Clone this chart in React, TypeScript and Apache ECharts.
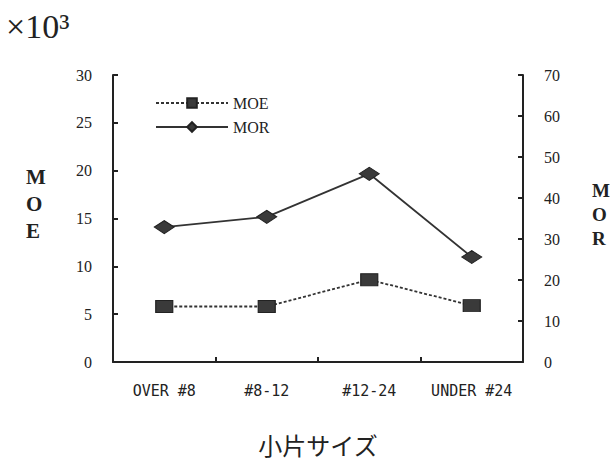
import React, { useEffect, useRef } from "react";
import * as echarts from "echarts";

const categories = ["OVER #8", "#8-12", "#12-24", "UNDER #24"];
const moeValues = [5.8, 5.8, 8.6, 5.9];
const morValues = [32.9, 35.4, 45.9, 25.6];
const leftTicks = { min: 0, max: 30, interval: 5 };
const rightTicks = { min: 0, max: 70, interval: 10 };

export default function App() {
  const ref = useRef<HTMLDivElement>(null);
  useEffect(() => {
    if (!ref.current) return;
    const chart = echarts.init(ref.current, null, { renderer: "svg" });
    const axisLine = { show: true, lineStyle: { color: "#222", width: 2 } };
    const axisTick = { show: true, inside: true, length: 5, lineStyle: { color: "#222", width: 2 } };
    const serif = "Liberation Serif";
    chart.setOption({
      animation: false,
      backgroundColor: "#fff",
      grid: { left: 113, right: 87, top: 75, bottom: 85, containLabel: false },
      legend: {
        orient: "vertical",
        left: 150,
        top: 90,
        itemGap: 8,
        itemWidth: 72,
        itemHeight: 12,
        textStyle: { fontFamily: serif, fontSize: 16, color: "#222" },
        data: ["MOE", "MOR"],
      },
      graphic: [
        {
          type: "text",
          left: 6,
          top: 9,
          style: { text: "×10³", font: "34px 'Liberation Serif'", fill: "#222" },
        },
        {
          type: "text",
          left: 26,
          top: 163,
          style: { text: "M\nO\nE", font: "bold 21px 'Liberation Serif'", lineHeight: 27, fill: "#222" },
        },
        {
          type: "text",
          left: 592,
          top: 178,
          style: { text: "M\nO\nR", font: "bold 19px 'Liberation Serif'", lineHeight: 24, fill: "#222" },
        },
      ],
      xAxis: {
        type: "category",
        data: categories,
        boundaryGap: true,
        axisLine,
        axisTick: { ...axisTick, alignWithLabel: false },
        axisLabel: { interval: 0, fontFamily: "DejaVu Sans Mono", fontSize: 15, color: "#222", margin: 21 },
        name: "小片サイズ",
        nameLocation: "middle",
        nameGap: 70,
        nameTextStyle: { fontFamily: "Noto Sans CJK JP", fontSize: 24, color: "#222" },
      },
      yAxis: [
        {
          type: "value",
          ...leftTicks,
          axisLine,
          axisTick,
          splitLine: { show: false },
          axisLabel: { fontFamily: serif, fontSize: 16, color: "#222", margin: 21 },
        },
        {
          type: "value",
          ...rightTicks,
          position: "right",
          axisLine,
          axisTick,
          splitLine: { show: false },
          axisLabel: { fontFamily: serif, fontSize: 16, color: "#222", margin: 21 },
        },
      ],
      series: [
        {
          name: "MOE",
          type: "line",
          yAxisIndex: 0,
          data: moeValues,
          symbol: "rect",
          symbolSize: [17, 12],
          lineStyle: { color: "#333", width: 1.8, type: [3, 2] },
          itemStyle: { color: "#3a3a3a", borderColor: "#222", borderWidth: 1 },
        },
        {
          name: "MOR",
          type: "line",
          yAxisIndex: 1,
          data: morValues,
          symbol: "diamond",
          symbolSize: [20, 13],
          lineStyle: { color: "#333", width: 1.8 },
          itemStyle: { color: "#3a3a3a", borderColor: "#222", borderWidth: 1 },
        },
      ],
    });
    return () => chart.dispose();
  }, []);
  return (
    <div
      ref={ref}
      style={{ position: "absolute", left: 0, top: 0, width: 610, height: 461 }}
    />
  );
}
